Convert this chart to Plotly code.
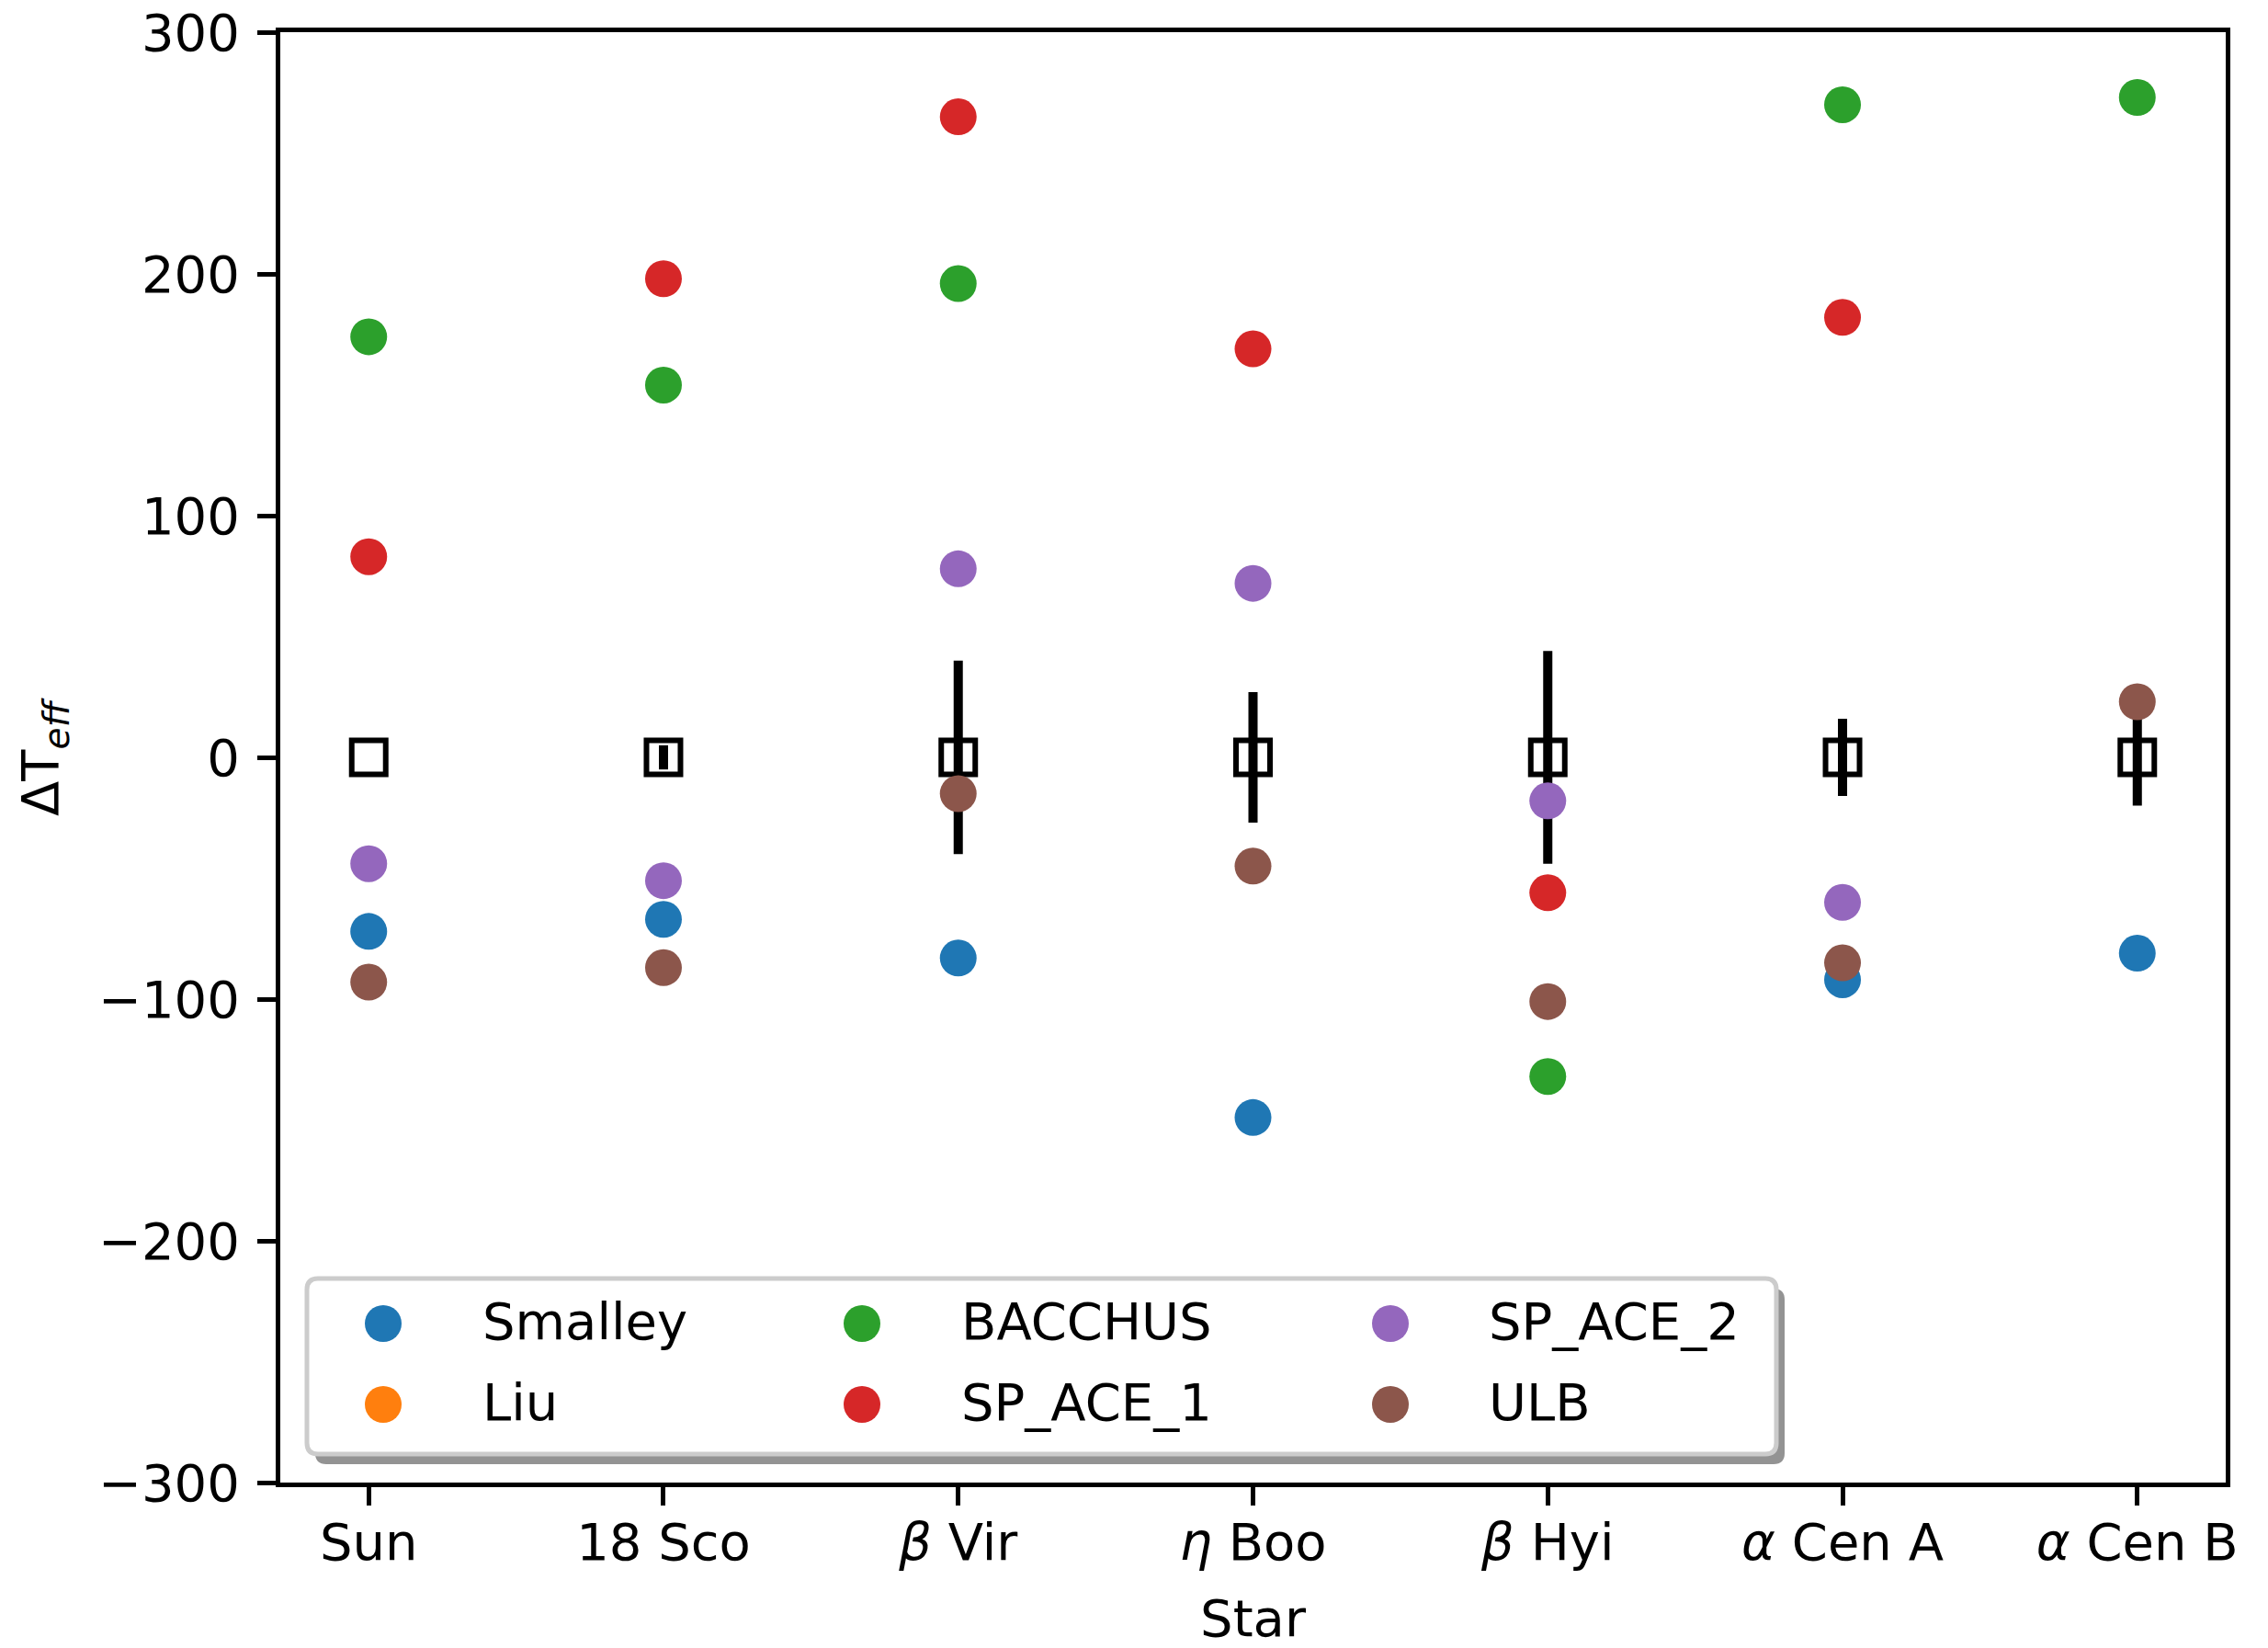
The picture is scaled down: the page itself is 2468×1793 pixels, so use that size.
import plotly.graph_objects as go

# ---- data ----
stars = ["Sun", "18 Sco", "<i>β</i> Vir", "<i>η</i> Boo", "<i>β</i> Hyi", "<i>α</i> Cen A", "<i>α</i> Cen B"]
ref_err = [0, 5, 40, 27, 44, 16, 20]
ref_val = [0, 0, 0, 0, 0, 0, 0]
smalley = [-72, -67, -83, -149, None, -92, -81]
liu = [None, None, None, None, None, None, None]
bacchus = [174, 154, 196, None, -132, 270, 273]
sp_ace_1 = [83, 198, 265, 169, -56, 182, None]
sp_ace_2 = [-44, -51, 78, 72, -18, -60, None]
ulb = [-93, -87, -15, -45, -101, -85, 23]

series_names = ["Smalley", "Liu", "BACCHUS", "SP_ACE_1", "SP_ACE_2", "ULB"]
series_vals = [smalley, liu, bacchus, sp_ace_1, sp_ace_2, ulb]
series_colors = ["#1f77b4", "#ff7f0e", "#2ca02c", "#d62728", "#9467bd", "#8c564b"]

# ---- layout (page pixels; html body adds an 8px offset) ----
W, H = 2468, 1793
OFF = 8
PX0, PX1, PY0, PY1 = 305, 2422, 35, 1613       # plot area on page
FONT = "DejaVu Sans"
FS = 56

fig = go.Figure()
fig.add_trace(go.Scatter(
    x=stars, y=ref_val, mode="markers", showlegend=False, hoverinfo="skip",
    marker=dict(symbol="square-open", size=37, color="black", line=dict(width=6, color="black")),
    error_y=dict(type="data", array=ref_err, visible=True, thickness=10, width=0, color="black"),
))
for name, vals, col in zip(series_names, series_vals, series_colors):
    fig.add_trace(go.Scatter(
        x=stars, y=vals, mode="markers", name=name, showlegend=False,
        marker=dict(size=40, color=col, line=dict(width=0)),
    ))

# ---- matplotlib-like legend drawn on an overlay axis in page-pixel units ----
leg_col_marker_x = [417, 938, 1513]
leg_col_text_x = [525, 1046, 1620]
leg_row_y = [1440, 1528]
TEXT_DY = 3
lx, ly, tx, ty = [], [], [], []
for i in range(len(series_names)):
    c, r = divmod(i, 2)
    lx.append(leg_col_marker_x[c])
    tx.append(leg_col_text_x[c])
    ly.append(leg_row_y[r])
    ty.append(leg_row_y[r] + TEXT_DY)

def rounded_path(x0, y0, x1, y1, r):
    return (f"M {x0+r},{y0} L {x1-r},{y0} Q {x1},{y0} {x1},{y0+r} "
            f"L {x1},{y1-r} Q {x1},{y1} {x1-r},{y1} L {x0+r},{y1} "
            f"Q {x0},{y1} {x0},{y1-r} L {x0},{y0+r} Q {x0},{y0} {x0+r},{y0} Z")

bx0, by0, bx1, by1 = 334, 1391, 1933, 1582
fig.add_shape(type="path", xref="x2", yref="y2", layer="below",
              path=rounded_path(bx0 + 9, by0 + 11, bx1 + 9, by1 + 11, 12),
              fillcolor="rgba(120,120,120,0.8)", line=dict(width=0))
fig.add_shape(type="path", xref="x2", yref="y2", layer="below",
              path=rounded_path(bx0, by0, bx1, by1, 12),
              fillcolor="white", line=dict(width=5, color="#cccccc"))

fig.add_trace(go.Scatter(
    x=lx, y=ly, xaxis="x2", yaxis="y2", mode="markers", showlegend=False, hoverinfo="skip",
    marker=dict(size=40, color=series_colors, line=dict(width=0)),
))
fig.add_trace(go.Scatter(
    x=tx, y=ty, xaxis="x2", yaxis="y2", mode="text", text=series_names,
    textposition="middle right", showlegend=False, hoverinfo="skip",
    textfont=dict(family=FONT, size=FS, color="black"),
))

# y-axis title as a rotated annotation placed left of the tick labels
fig.add_annotation(text="ΔT<sub><i>eff</i></sub>", textangle=-90, showarrow=False,
                   xref="paper", yref="paper", x=(47 - PX0) / (PX1 - PX0), y=0.5,
                   xanchor="center", yanchor="middle",
                   font=dict(family=FONT, size=FS, color="black"))

fig.update_layout(
    width=W - OFF, height=H - OFF,
    margin=dict(l=PX0 - OFF, r=W - PX1, t=PY0 - OFF, b=H - PY1, autoexpand=False),
    paper_bgcolor="white", plot_bgcolor="white",
    font=dict(family=FONT, size=FS, color="black"),
    showlegend=False,
    xaxis=dict(range=[-0.3, 6.3], type="category", showline=True, mirror=True,
               linecolor="black", linewidth=5, showgrid=False, zeroline=False,
               ticks="outside", ticklen=20, tickwidth=5, tickcolor="black",
               tickfont=dict(family=FONT, size=FS), ticklabelstandoff=-8,
               ticklabeloverflow="allow",
               title=dict(text="Star", font=dict(family=FONT, size=FS), standoff=40),
               automargin=False),
    yaxis=dict(range=[-300, 300], dtick=100, showline=True, mirror=True,
               linecolor="black", linewidth=5, showgrid=False, zeroline=False,
               ticks="outside", ticklen=20, tickwidth=5, tickcolor="black",
               tickfont=dict(family=FONT, size=FS), ticklabelstandoff=8,
               ticklabeloverflow="allow",
               automargin=False),
    xaxis2=dict(range=[PX0, PX1], overlaying="x", visible=False, fixedrange=True),
    yaxis2=dict(range=[PY1, PY0], overlaying="y", visible=False, fixedrange=True),
)
fig.write_html("out.html")
